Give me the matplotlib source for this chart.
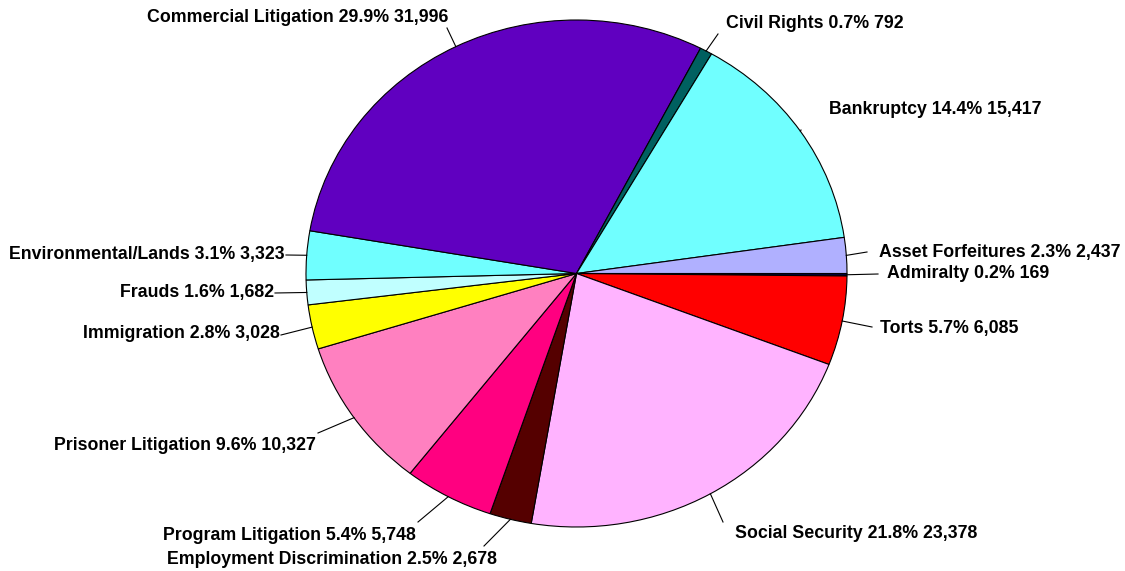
import numpy as np
import matplotlib
matplotlib.use("Agg")
import matplotlib.pyplot as plt

# ---- data (clockwise from 3 o'clock) ----
categories = ["Admiralty", "Torts", "Social Security", "Employment Discrimination",
              "Program Litigation", "Prisoner Litigation", "Immigration", "Frauds",
              "Environmental/Lands", "Commercial Litigation", "Civil Rights",
              "Bankruptcy", "Asset Forfeitures"]
values = [169, 6085, 23378, 2678, 5748, 10327, 3028, 1682, 3323, 31996, 792, 15417, 2437]
colors = ["#000040", "#FF0000", "#FFB3FF", "#550000", "#FF0080", "#FF80C0", "#FFFF00",
          "#C0FFFF", "#70FFFF", "#6000C0", "#006060", "#70FFFF", "#B0B0FF"]

# ---- layout (pixel geometry of the reference) ----
W, H = 1125, 571
CX, CY, RX, RY = 576.5, 273.5, 270.5, 253.5

def px(x, y):
    return ((x - CX) / RX, (CY - y) / RY)

# label layout: (line end x, line end y, text x, text y, ha)
label_layout = {
    "Admiralty": (878, 274, 887, 274, "left"),
    "Torts": (872, 327, 880, 329, "left"),
    "Social Security": (723, 522, 735, 534, "left"),
    "Employment Discrimination": (484, 546, 497, 560, "right"),
    "Program Litigation": (418, 522, 416, 535, "right"),
    "Prisoner Litigation": (318, 433, 316, 445, "right"),
    "Immigration": (281, 335, 280, 334, "right"),
    "Frauds": (275, 293, 274, 293, "right"),
    "Environmental/Lands": (286, 255, 285, 255, "right"),
    "Commercial Litigation": (447, 28, 448, 17, "right"),
    "Civil Rights": (718, 34, 726, 23, "left"),
    "Bankruptcy": (801, 130, 829, 110, "left"),
    "Asset Forfeitures": (867, 252, 879, 252, "left"),
}

plt.rcParams['font.family'] = ['Liberation Sans', 'DejaVu Sans']

fig = plt.figure(figsize=(W / 100, H / 100), dpi=100)
ax = fig.add_axes([0, 0, 1, 1])
x0, y0 = px(0, H)
x1, y1 = px(W, 0)

wedges, _ = ax.pie(values, colors=colors, startangle=0, counterclock=False,
                   radius=1, center=(0, 0), frame=True,
                   wedgeprops=dict(edgecolor="black", linewidth=0.8))
ax.set_xlim(x0, x1)
ax.set_ylim(y0, y1)
ax.set_aspect('auto')
ax.axis('off')

total = float(sum(values))
for w, cat, v in zip(wedges, categories, values):
    ang = np.deg2rad((w.theta1 + w.theta2) / 2.0)
    ex, ey = np.cos(ang), np.sin(ang)
    lx, ly, tx, ty, ha = label_layout[cat]
    lxd, lyd = px(lx, ly)
    txd, tyd = px(tx, ty)
    ax.plot([ex, lxd], [ey, lyd], color="black", lw=0.8)
    pct = 100.0 * v / total
    ax.text(txd, tyd, f"{cat} {pct:.1f}% {v:,}", ha=ha, va="center",
            fontsize=12.75, fontweight="bold", color="black")

fig.savefig("out.png", dpi=100)
